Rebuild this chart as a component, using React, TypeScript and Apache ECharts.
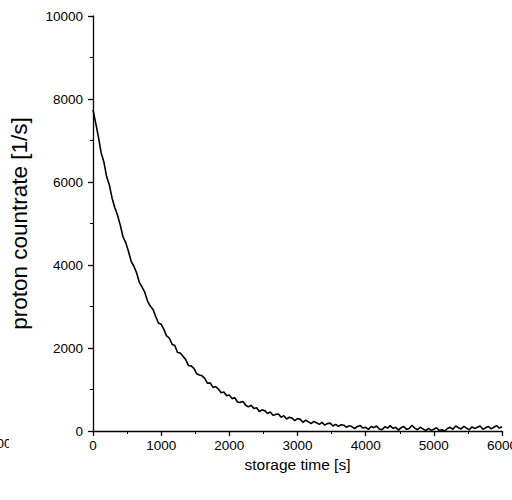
import React, { useEffect, useRef } from "react";
import * as echarts from "echarts";

const times: number[] = [
  0, 40, 80, 120, 160, 200, 240, 280, 320, 360, 400, 440, 480, 520, 560, 600, 640, 680, 720, 760,
  800, 840, 880, 920, 960, 1000, 1040, 1080, 1120, 1160, 1200, 1240, 1280, 1320, 1360, 1400, 1440, 1480, 1520, 1560,
  1600, 1640, 1680, 1720, 1760, 1800, 1840, 1880, 1920, 1960, 2000, 2040, 2080, 2120, 2160, 2200, 2240, 2280, 2320, 2360,
  2400, 2440, 2480, 2520, 2560, 2600, 2640, 2680, 2720, 2760, 2800, 2840, 2880, 2920, 2960, 3000, 3040, 3080, 3120, 3160,
  3200, 3240, 3280, 3320, 3360, 3400, 3440, 3480, 3520, 3560, 3600, 3640, 3680, 3720, 3760, 3800, 3840, 3880, 3920, 3960,
  4000, 4040, 4080, 4120, 4160, 4200, 4240, 4280, 4320, 4360, 4400, 4440, 4480, 4520, 4560, 4600, 4640, 4680, 4720, 4760,
  4800, 4840, 4880, 4920, 4960, 5000, 5040, 5080, 5120, 5160, 5200, 5240, 5280, 5320, 5360, 5400, 5440, 5480, 5520, 5560,
  5600, 5640, 5680, 5720, 5760, 5800, 5840, 5880, 5920, 5960, 6000,
];

const countrate: number[] = [
  7740, 7420, 7080, 6700, 6480, 6130, 5930, 5610, 5380, 5200, 4960, 4680, 4540, 4330, 4090, 3970, 3810, 3580, 3470, 3340,
  3130, 3010, 2930, 2760, 2600, 2570, 2450, 2290, 2240, 2090, 2060, 1890, 1880, 1800, 1720, 1580, 1570, 1510, 1380, 1350,
  1330, 1270, 1150, 1160, 1050, 1070, 1010, 920, 940, 850, 870, 780, 800, 700, 690, 710, 620, 580, 620, 540,
  560, 470, 510, 490, 420, 460, 380, 400, 410, 330, 370, 290, 330, 310, 250, 300, 280, 210, 260, 220,
  180, 230, 200, 160, 210, 140, 180, 190, 120, 160, 110, 150, 140, 90, 130, 100, 60, 110, 130, 70,
  90, 40, 110, 80, 120, 50, 30, 100, 70, 130, 60, 90, 20, 80, 110, 40, 60, 140, 70, 30,
  90, 50, 10, 60, 20, 40, 80, 10, 30, 0, 60, 90, 40, 120, 80, 50, 110, 70, 30, 100,
  60, 90, 120, 40, 80, 110, 50, 90, 130, 70, 100,
];

const xTicks = { min: 0, max: 6000, interval: 1000 };
const yTicks = { min: 0, max: 10000, interval: 2000 };

const xTitle = "storage time [s]";
const yTitle = "proton countrate [1/s]";
const clippedNeighbourLabel = "6000";

const sans = "'Liberation Sans', Arial, sans-serif";

export default function App() {
  const ref = useRef<HTMLDivElement>(null);
  useEffect(() => {
    if (!ref.current) return;
    const chart = echarts.init(ref.current, undefined, { renderer: "svg" });
    const data = times.map((t, i) => [t, countrate[i]]);
    chart.setOption({
      animation: false,
      backgroundColor: "#ffffff",
      grid: {
        left: 93,
        right: 10,
        top: 16,
        bottom: 69,
        containLabel: false,
        outerBoundsMode: "none",
      },
      xAxis: {
        type: "value",
        min: xTicks.min,
        max: xTicks.max,
        interval: xTicks.interval,
        name: xTitle,
        nameLocation: "middle",
        nameGap: 24,
        nameTextStyle: { fontFamily: sans, fontSize: 15.5, color: "#000" },
        axisLine: { show: true, onZero: false, lineStyle: { color: "#000", width: 1.3 } },
        axisTick: { show: true, length: 5, lineStyle: { color: "#000", width: 1.3 } },
        minorTick: { show: true, splitNumber: 2, length: 3, lineStyle: { color: "#000", width: 1 } },
        splitLine: { show: false },
        axisLabel: {
          fontFamily: sans,
          fontSize: 13.5,
          color: "#000",
          margin: 7,
          formatter: (v: number) => String(v),
        },
      },
      yAxis: {
        type: "value",
        min: yTicks.min,
        max: yTicks.max,
        interval: yTicks.interval,
        name: yTitle,
        nameLocation: "middle",
        nameGap: 62,
        nameRotate: 90,
        nameTextStyle: { fontFamily: sans, fontSize: 22.5, color: "#000" },
        axisLine: { show: true, lineStyle: { color: "#000", width: 1.3 } },
        axisTick: { show: true, length: 5, lineStyle: { color: "#000", width: 1.3 } },
        minorTick: { show: true, splitNumber: 2, length: 3, lineStyle: { color: "#000", width: 1 } },
        splitLine: { show: false },
        axisLabel: {
          fontFamily: sans,
          fontSize: 13.5,
          color: "#000",
          margin: 10,
          formatter: (v: number) => String(v),
        },
      },
      series: [
        {
          type: "line",
          data,
          showSymbol: false,
          symbol: "none",
          lineStyle: { color: "#000", width: 1.6 },
        },
      ],
      graphic: [
        {
          type: "text",
          x: -11,
          y: 436,
          style: { text: clippedNeighbourLabel, font: "13.5px " + sans, fill: "#000" },
          z: 10,
        },
        {
          type: "rect",
          shape: { x: 9, y: 432, width: 10, height: 20 },
          style: { fill: "#fff" },
          z: 11,
        },
      ],
    });
    return () => chart.dispose();
  }, []);
  return (
    <div
      ref={ref}
      style={{ position: "fixed", left: 0, top: 0, width: 512, height: 500, background: "#fff" }}
    />
  );
}
